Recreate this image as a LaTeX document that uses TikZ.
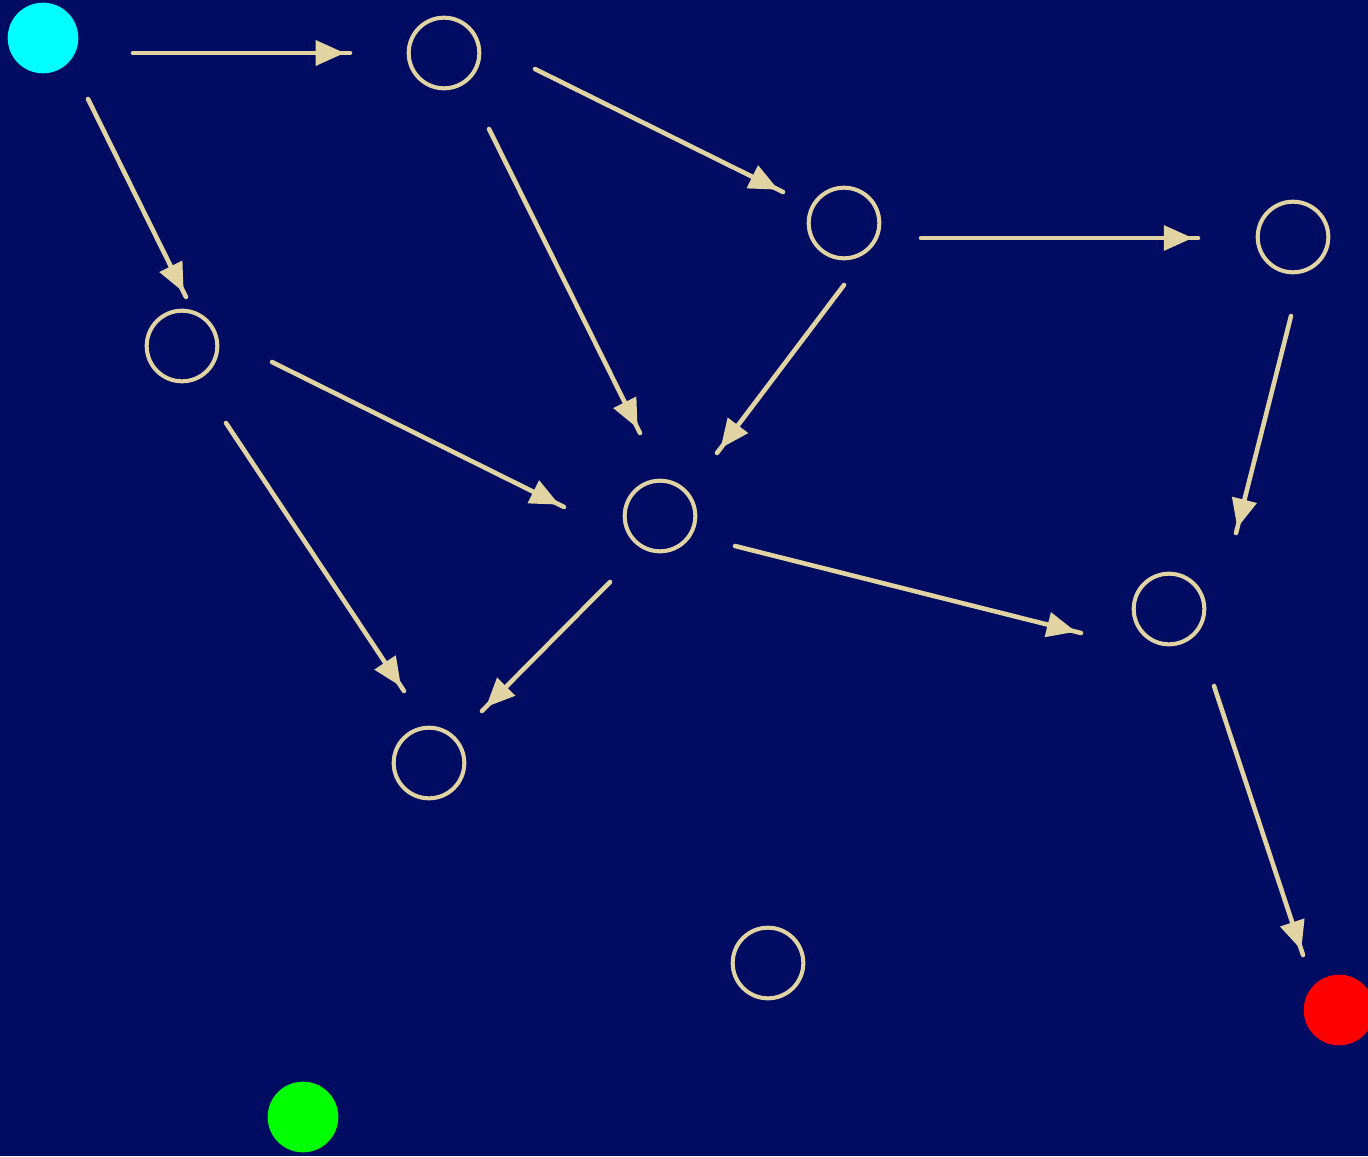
\documentclass[tikz,border=0pt]{standalone}
\usetikzlibrary{arrows.meta,decorations.markings}

\definecolor{bgnavy}{RGB}{0,11,98}
\definecolor{sand}{RGB}{226,211,163}
\definecolor{startcyan}{RGB}{0,255,255}
\definecolor{goalred}{RGB}{255,0,0}
\definecolor{sparegreen}{RGB}{0,255,0}

\tikzset{
  vertex/.style={circle, draw=sand, line width=2.3pt, minimum size=40.2pt, inner sep=0pt},
  terminal/.style={circle, minimum size=40.2pt, inner sep=0pt},
  edge/.style={draw=sand, line width=2.6pt, line cap=round, postaction={decorate},
    decoration={markings, mark=at position -3pt with {\arrow{Triangle[length=16.5pt,width=14pt]}}}},
}

\begin{document}
\begin{tikzpicture}[x=0.02cm, y=-0.02cm]
    % Background and page size
    \fill[bgnavy] (0,0) rectangle (1368,1156);
    \useasboundingbox (0,0) rectangle (1368,1156);

    % Nodes
    \node[terminal, fill=startcyan] (start) at (43,38) {};
    \node[vertex] (a) at (444,53) {};
    \node[vertex] (b) at (844,223) {};
    \node[vertex] (c) at (1293,237) {};
    \node[vertex] (d) at (182,346) {};
    \node[vertex] (e) at (660,516) {};
    \node[vertex] (f) at (1169,609) {};
    \node[vertex] (g) at (429,763) {};
    \node[vertex] (h) at (768,963) {};
    \node[terminal, fill=goalred] (goal) at (1339,1010) {};
    \node[terminal, fill=sparegreen] (spare) at (303,1117) {};

    % Edges (offset from the centres, with a gap at both ends)
    \draw[edge] ([shift={(90,15)}]start.center) -- ([shift={(-94,0)}]a.center);
    \draw[edge] ([shift={(45,61)}]start.center) -- ([shift={(4,-49)}]d.center);
    \draw[edge] ([shift={(91,16)}]a.center) -- ([shift={(-61,-31)}]b.center);
    \draw[edge] ([shift={(45,76)}]a.center) -- ([shift={(-20,-83)}]e.center);
    \draw[edge] ([shift={(77,15)}]b.center) -- ([shift={(-95,1)}]c.center);
    \draw[edge] ([shift={(0,62)}]b.center) -- ([shift={(57,-63)}]e.center);
    \draw[edge] ([shift={(-2,79)}]c.center) -- ([shift={(67,-76)}]f.center);
    \draw[edge] ([shift={(90,16)}]d.center) -- ([shift={(-96,-9)}]e.center);
    \draw[edge] ([shift={(44,77)}]d.center) -- ([shift={(-25,-72)}]g.center);
    \draw[edge] ([shift={(-50,66)}]e.center) -- ([shift={(53,-52)}]g.center);
    \draw[edge] ([shift={(75,30)}]e.center) -- ([shift={(-88,24)}]f.center);
    \draw[edge] ([shift={(45,77)}]f.center) -- ([shift={(-36,-55)}]goal.center);
\end{tikzpicture}
\end{document}
